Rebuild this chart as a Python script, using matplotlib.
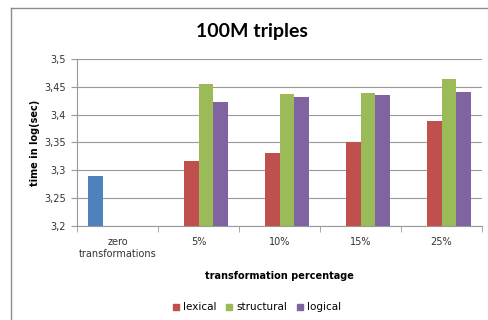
import numpy as np
import matplotlib.pyplot as plt
from matplotlib.lines import Line2D

categories = ['zero\ntransformations', '5%', '10%', '15%', '25%']
series_names = ['zero', 'lexical', 'structural', 'logical']
zero = [3.29, np.nan, np.nan, np.nan, np.nan]
lexical = [np.nan, 3.317, 3.331, 3.351, 3.388]
structural = [np.nan, 3.454, 3.437, 3.439, 3.464]
logical = [np.nan, 3.423, 3.431, 3.435, 3.440]
colors = ['#4f81bd', '#c0504d', '#9bbb59', '#8064a2']
yticks = [3.2, 3.25, 3.3, 3.35, 3.4, 3.45, 3.5]

fig = plt.figure(figsize=(4.89, 3.2), dpi=100)
ax = fig.add_axes([0.1575, 0.294, 0.8282, 0.522])

x = np.arange(len(categories))
w = 0.18
data = [zero, lexical, structural, logical]
for i, (vals, c) in enumerate(zip(data, colors)):
    v = np.array(vals, dtype=float)
    ax.bar(x + (i - 1.5) * w, v - 3.2, w, bottom=3.2, color=c, zorder=3)

ax.set_xlim(-0.5, len(categories) - 0.5)
ax.set_ylim(3.2, 3.5)
ax.set_yticks(yticks)
ax.set_yticklabels([f'{t:g}'.replace('.', ',') for t in yticks], fontsize=7, color='#333333')
ax.yaxis.grid(True, color='#999999', linewidth=0.8, zorder=0)

# category labels centred, tick marks between categories
ax.set_xticks(x)
ax.set_xticklabels(categories, fontsize=7, color='#333333')
ax.tick_params(axis='x', length=0, pad=8)
ax.set_xticks(np.arange(len(categories) + 1) - 0.5, minor=True)
ax.tick_params(axis='x', which='minor', length=4, direction='out', color='#999999')
ax.tick_params(axis='y', length=4, direction='out', color='#999999', pad=4)

for s in ['top', 'right']:
    ax.spines[s].set_visible(False)
for s in ['left', 'bottom']:
    ax.spines[s].set_color('#999999')

ax.set_ylabel('time in log(sec)', fontsize=7, fontweight='bold', labelpad=3)
ax.set_xlabel('transformation percentage', fontsize=7, fontweight='bold', labelpad=9)
fig.text(0.515, 0.9, '100M triples', ha='center', va='center',
         fontsize=14, fontweight='bold', family='Lato')

handles = [Line2D([], [], marker='s', linestyle='', color=c, markersize=5)
           for c in colors[1:]]
fig.legend(handles, series_names[1:], loc='center', bbox_to_anchor=(0.522, 0.04),
           ncol=3, frameon=False, fontsize=7.5, handletextpad=0.1, columnspacing=0.6,
           handlelength=1.2)

# outer chart border
fig.add_artist(Line2D([11 / 489, 11 / 489], [0, 1 - 8 / 320], color='#8c8c8c',
                      linewidth=1.0, transform=fig.transFigure))
fig.add_artist(Line2D([11 / 489, 1], [1 - 8 / 320, 1 - 8 / 320], color='#8c8c8c',
                      linewidth=1.0, transform=fig.transFigure))

fig.savefig('out.png', dpi=100)
